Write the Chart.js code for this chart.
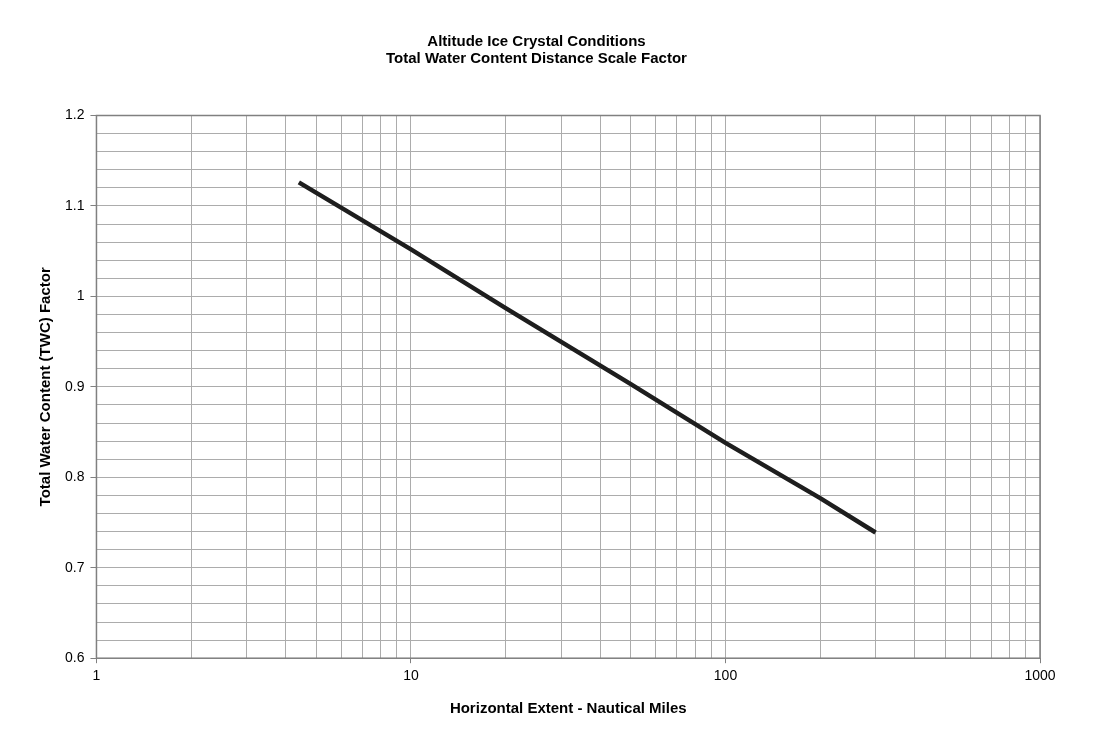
<!DOCTYPE html>
<html>
<head>
<meta charset="utf-8">
<script src="https://cdn.jsdelivr.net/npm/chart.js@4/dist/chart.umd.min.js"></script>
<style>
  html, body { margin: 0; padding: 0; background: #fff; }
  #wrap { width: 1119px; height: 747px; position: relative; }
</style>
</head>
<body>
<div id="wrap"><canvas id="chart"></canvas></div>
<script>
// Data
const extentNm = [4.4, 10, 20, 50, 100, 200, 300];
const twcFactor = [1.126, 1.052, 0.987, 0.903, 0.838, 0.777, 0.739];

const titleLines = ['Altitude Ice Crystal Conditions', 'Total Water Content Distance Scale Factor'];
const xTitle = 'Horizontal Extent - Nautical Miles';
const yTitle = 'Total Water Content (TWC) Factor';

const xGridValues = [1, 2, 3, 4, 5, 6, 7, 8, 9, 10, 20, 30, 40, 50, 60, 70, 80, 90,
    100, 200, 300, 400, 500, 600, 700, 800, 900, 1000];
const xLabelValues = [1, 10, 100, 1000];

const font = 'Arial, "Liberation Sans", Helvetica, sans-serif';

// draws the box round the plot area
const frame = {
    id: 'frame',
    afterDraw(chart) {
        const { ctx, chartArea: a } = chart;
        ctx.save();
        ctx.strokeStyle = '#808080';
        ctx.lineWidth = 1.5;
        ctx.strokeRect(a.left, a.top, a.right - a.left, a.bottom - a.top);
        ctx.restore();
    }
};

const isMajorY = v => Math.abs(v * 10 - Math.round(v * 10)) < 1e-6;

new Chart(document.getElementById('chart'), {
    type: 'line',
    data: {
        datasets: [{
            data: extentNm.map((x, i) => ({ x: x, y: twcFactor[i] })),
            borderColor: '#1e1e1e',
            borderWidth: 4.5,
            pointRadius: 0,
            tension: 0,
            fill: false
        }]
    },
    options: {
        responsive: true,
        maintainAspectRatio: false,
        animation: false,
        layout: { padding: { top: 20, right: 79, bottom: 25, left: 33 } },
        plugins: {
            legend: { display: false },
            tooltip: { enabled: false },
            title: {
                display: true,
                text: titleLines,
                color: '#000',
                font: { family: font, size: 15, weight: 'bold', lineHeight: 1.15 },
                padding: { top: 13, bottom: 48 }
            }
        },
        scales: {
            x: {
                type: 'logarithmic',
                min: 1,
                max: 1000,
                afterBuildTicks: axis => { axis.ticks = xGridValues.map(v => ({ value: v })); },
                ticks: {
                    autoSkip: false,
                    maxRotation: 0,
                    color: '#000',
                    font: { family: font, size: 14 },
                    padding: 5,
                    callback: v => xLabelValues.includes(v) ? String(v) : ''
                },
                grid: {
                    color: '#acacac',
                    lineWidth: 1,
                    tickLength: 5,
                    tickColor: ctx => (ctx.tick && xLabelValues.includes(ctx.tick.value)) ? '#808080' : 'rgba(0,0,0,0)'
                },
                border: { display: false },
                title: {
                    display: true,
                    text: xTitle,
                    color: '#000',
                    font: { family: font, size: 15, weight: 'bold' },
                    padding: { top: 10, bottom: 4 }
                }
            },
            y: {
                min: 0.6,
                max: 1.2,
                ticks: {
                    stepSize: 0.02,
                    autoSkip: false,
                    color: '#000',
                    font: { family: font, size: 14 },
                    padding: 6,
                    callback: v => isMajorY(v) ? String(Math.round(v * 10) / 10) : ''
                },
                grid: {
                    color: '#acacac',
                    lineWidth: 1,
                    tickLength: 6,
                    tickColor: ctx => (ctx.tick && isMajorY(ctx.tick.value)) ? '#808080' : 'rgba(0,0,0,0)'
                },
                border: { display: false },
                title: {
                    display: true,
                    text: yTitle,
                    color: '#000',
                    font: { family: font, size: 15, weight: 'bold' },
                    padding: { bottom: 4 }
                }
            }
        }
    },
    plugins: [frame]
});
</script>
</body>
</html>
